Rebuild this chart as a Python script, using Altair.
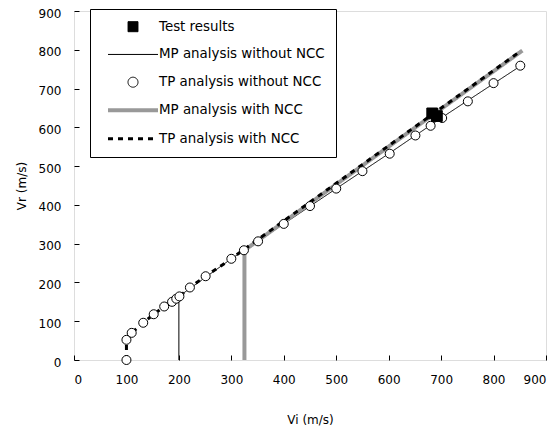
import altair as alt
import pandas as pd

series_names = ["Test results", "MP analysis without NCC", "TP analysis without NCC",
                "MP analysis with NCC", "TP analysis with NCC"]

test_vi = [683, 692]
test_vr = [636, 629]

tp_vi = [100, 100, 110, 132, 152, 172, 187, 195, 201, 221, 251, 300, 324, 351,
         400, 450, 500, 550, 602, 651, 680, 702, 751, 800, 851]
tp_vr = [0, 52, 70, 96, 118, 138, 150, 158, 164, 187, 216, 261, 283, 306,
         351, 397, 442, 487, 532, 579, 604, 624, 667, 714, 759]

mp_vi = [200, 200, 300, 400, 500, 600, 700, 850]
mp_vr = [0, 164, 261, 351, 442, 532, 624, 757]

mpn_vi = [325, 325, 855]
mpn_vr = [0, 283, 798]

tpn_vi = [100, 100, 110, 132, 152, 172, 187, 201, 221, 251, 300, 324, 850]
tpn_vr = [0, 52, 70, 96, 118, 138, 150, 164, 187, 216, 261, 285, 795]

x_ticks = list(range(0, 901, 100))
y_ticks = list(range(0, 901, 100))


def frame(vi, vr, name):
    return pd.DataFrame({"Vi": vi, "Vr": vr, "series": name, "order": list(range(len(vi)))})


df_test = frame(test_vi, test_vr, series_names[0])
df_mp = frame(mp_vi, mp_vr, series_names[1])
df_tp = frame(tp_vi, tp_vr, series_names[2])
df_mpn = frame(mpn_vi, mpn_vr, series_names[3])
df_tpn = frame(tpn_vi, tpn_vr, series_names[4])

FONT = "DejaVu Sans"

leg = alt.Legend(title=None, orient="none", legendX=16, legendY=-2, padding=11,
                 strokeColor="black", fillColor="white", symbolOffset=25, labelOffset=19,
                 rowPadding=12.75, labelFont=FONT, labelFontSize=13.4, labelColor="black",
                 labelLimit=400, symbolSize=100)

stroke_scale = alt.Scale(domain=series_names,
                         range=["#000000", "#000000", "#000000", "#999999", "#000000"])
fill_scale = alt.Scale(domain=series_names,
                       range=["#000000", "#ffffff", "#ffffff", "#ffffff", "#ffffff"])
shape_scale = alt.Scale(domain=series_names,
                        range=["square", "M-5,0H5", "circle", "M-5,0H5", "M-5,0H5"])
width_scale = alt.Scale(type="ordinal", domain=series_names, range=[1, 1, 1, 4, 3])
dash_scale = alt.Scale(domain=series_names,
                       range=[[1, 0], [1, 0], [1, 0], [1, 0], [5, 5]])

x_enc = alt.X("Vi:Q", scale=alt.Scale(domain=[0, 900], nice=False),
              axis=alt.Axis(values=x_ticks, title="Vi  (m/s)", grid=False, domain=False,
                            tickSize=5, offset=-5, tickColor="black", labelPadding=14,
                            labelFont=FONT, labelFontSize=12, labelColor="black",
                            titleFont=FONT, titleFontSize=12, titleFontWeight="normal",
                            titleColor="black", titlePadding=29))
y_enc = alt.Y("Vr:Q", scale=alt.Scale(domain=[0, 900], nice=False),
              axis=alt.Axis(values=y_ticks, title="Vr  (m/s)", grid=False, domain=False,
                            tickSize=5, offset=-5, tickColor="black", labelPadding=13,
                            labelOffset=2,
                            labelFont=FONT, labelFontSize=12, labelColor="black",
                            titleFont=FONT, titleFontSize=12, titleFontWeight="normal",
                            titleColor="black", titlePadding=10))

line_common = dict(
    x=x_enc, y=y_enc, order="order:Q",
    stroke=alt.Stroke("series:N", scale=stroke_scale, legend=leg),
    strokeWidth=alt.StrokeWidth("series:N", scale=width_scale, legend=leg),
    strokeDash=alt.StrokeDash("series:N", scale=dash_scale, legend=leg),
)

point_common = dict(
    x=x_enc, y=y_enc,
    stroke=alt.Stroke("series:N", scale=stroke_scale, legend=leg),
    fill=alt.Fill("series:N", scale=fill_scale, legend=leg),
    shape=alt.Shape("series:N", scale=shape_scale, legend=leg),
)

l_mp = alt.Chart(df_mp).mark_line().encode(**line_common)
l_mpn = alt.Chart(df_mpn).mark_line().encode(**line_common)
l_tpn = alt.Chart(df_tpn).mark_line().encode(**line_common)
p_tp = alt.Chart(df_tp).mark_point(filled=True, size=81, opacity=1, strokeWidth=1).encode(**point_common)
p_test = alt.Chart(df_test).mark_point(filled=True, size=115, opacity=1, strokeWidth=1).encode(**point_common)

chart = alt.layer(l_mp, l_mpn, l_tpn, p_tp, p_test).properties(
    width=472, height=349,
    autosize=alt.AutoSizeParams(type="none"),
    padding={"left": 66, "top": 3, "right": 6, "bottom": 66},
).configure_view(stroke="black", strokeWidth=1).configure(background="white")

chart.save("out.html", embed_options={"renderer": "svg", "actions": False})
